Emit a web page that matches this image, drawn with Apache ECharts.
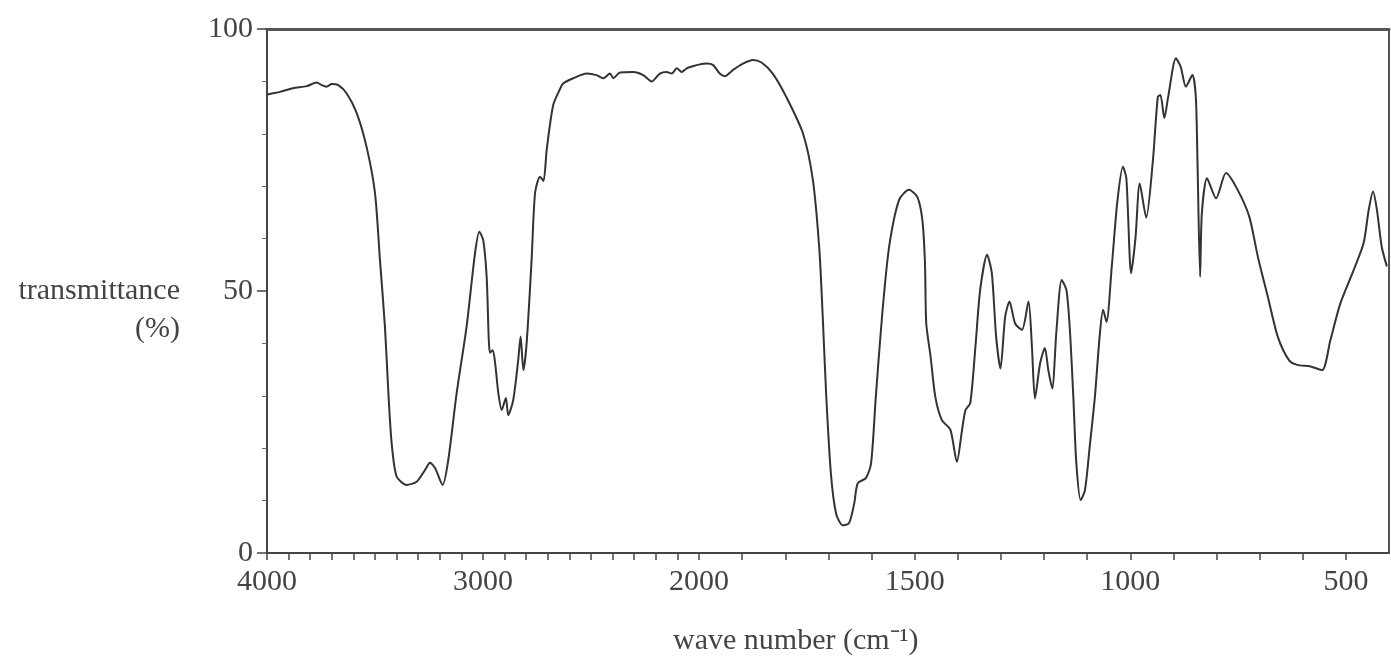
<!DOCTYPE html>
<html>
<head>
<meta charset="utf-8">
<script src="https://cdn.jsdelivr.net/npm/echarts@6/dist/echarts.min.js"></script>
<style>html,body{margin:0;padding:0;background:#fff}#c{width:1391px;height:657px}</style>
</head>
<body>
<div id="c"></div>
<script>
// wavenumber (cm^-1), descending
const wavenumbers = [
 4000,3978,3940,3880,3816,3770,3747,3724,3700,3670,3631,3585,3539,3500,3477,3454,3438,3423,3400,3354,
 3307,3269,3245,3222,3187,3161,3122,3076,3037,3017,2999,2983,2968,2955,2944,2929,2913,2894,2883,2860,
 2837,2826,2813,2798,2775,2759,2736,2720,2705,2675,2644,2629,2582,2520,2474,2443,2412,2397,2366,2304,
 2258,2219,2181,2150,2126,2103,2080,2057,2011,2000,1982,1967,1952,1940,1921,1898,1875,1855,1829,1798,
 1759,1736,1721,1713,1705,1694,1682,1667,1652,1640,1632,1613,1601,1590,1575,1559,1536,1513,1494,1482,
 1476,1473,1463,1452,1437,1417,1402,1390,1382,1371,1359,1348,1332,1321,1311,1301,1290,1280,1267,1251,
 1236,1228,1221,1209,1198,1190,1181,1171,1159,1148,1140,1132,1125,1115,1105,1094,1082,1071,1063,1055,
 1043,1030,1017,1009,998,988,978,963,948,936,930,921,912,894,883,871,856,848,844,838,
 834,822,801,778,751,724,704,681,658,632,613,582,555,536,513,482,459,447,437,428,
 417,405
];
// transmittance (%)
const transmittance = [
 87.5,87.7,88.0,88.7,89.1,89.8,89.3,89.0,89.5,89.3,87.7,84.0,77.5,68.7,55.9,43.2,30.5,21.0,14.6,13.0,
 13.6,15.8,17.2,16.2,13.0,17.7,30.5,43.2,57.2,61.3,59.7,52.7,38.2,38.7,36.3,30.5,27.3,29.6,26.3,29.2,
 36.8,41.3,34.9,40.0,55.9,68.7,71.8,71.0,77.0,85.5,88.5,89.6,90.6,91.5,91.2,90.6,91.5,90.6,91.7,91.8,
 91.2,90.0,91.5,91.8,91.5,92.5,91.8,92.5,93.1,93.2,93.4,93.1,91.5,91.0,92.2,93.4,94.1,93.6,91.5,87.1,
 80.1,71.2,58.0,45.0,30.0,15.0,7.5,5.3,5.7,9.5,13.3,14.3,17.1,29.8,45.7,58.5,67.4,69.3,68.0,63.5,
 55.3,43.8,37.5,29.8,25.4,23.5,17.4,23.5,27.3,28.6,39.4,50.2,56.9,53.4,41.3,35.2,45.1,48.0,43.8,42.6,
 48.0,39.4,29.5,36.2,39.1,34.9,31.4,42.6,52.1,50.2,42.6,29.8,17.1,10.1,12.0,20.3,29.8,41.3,46.4,44.1,
 54.5,67.0,73.7,71.5,53.4,60.0,70.5,64.0,74.4,87.1,87.4,83.0,87.1,94.4,92.8,89.0,91.2,87.1,74.4,52.7,
 64.8,71.5,67.7,72.5,69.3,64.2,56.5,48.9,41.3,36.8,35.9,35.6,34.9,40.6,47.6,54.0,59.1,65.5,69.0,65.5,
 58.5,54.7
];
const highLabels = [4000, 3000];
const lowLabels = [2000, 1500, 1000, 500];
const yLabels = [0, 50, 100];
const xTitle = 'wave number (cm\u207B\u00B9)';
const yTitle = '\ntransmittance\n(%)';

const pairs = wavenumbers.map((w, i) => [w, transmittance[i]]);
const highPart = pairs.filter(p => p[0] >= 2000);
const lowPart = pairs.filter(p => p[0] <= 2000);

const FONT = 'Liberation Serif';
const TXT = '#444';
const labelStyle = {fontFamily: FONT, fontSize: 30, color: TXT};

const chart = echarts.init(document.getElementById('c'), null, {renderer: 'canvas'});
chart.setOption({
  animation: false,
  backgroundColor: '#fff',
  grid: [
    {left: 267, width: 432, top: 29, bottom: 104},
    {left: 699, right: 2, top: 29, bottom: 104}
  ],
  xAxis: [
    {gridIndex: 0, type: 'value', inverse: true, min: 2000, max: 4000, interval: 100, position: 'bottom',
     axisLine: {show: true, lineStyle: {color: '#444', width: 2}},
     axisTick: {show: true, length: 7, lineStyle: {color: '#444', width: 1.5}},
     axisLabel: Object.assign({margin: 14, interval: 0, showMinLabel: false, showMaxLabel: true,
       formatter: v => highLabels.includes(v) ? String(v) : ''}, labelStyle),
     splitLine: {show: false}},
    {gridIndex: 1, type: 'value', inverse: true, min: 400, max: 2000, interval: 100, position: 'bottom',
     axisLine: {show: true, lineStyle: {color: '#444', width: 2}},
     axisTick: {show: true, length: 7, lineStyle: {color: '#444', width: 1.5}},
     axisLabel: Object.assign({margin: 14, interval: 0, showMinLabel: false, showMaxLabel: true,
       formatter: v => lowLabels.includes(v) ? String(v) : ''}, labelStyle),
     splitLine: {show: false}},
    {gridIndex: 0, type: 'value', inverse: true, min: 2000, max: 4000, position: 'top',
     axisLine: {show: true, lineStyle: {color: '#555', width: 3}},
     axisTick: {show: false}, axisLabel: {show: false}, splitLine: {show: false}},
    {gridIndex: 1, type: 'value', inverse: true, min: 400, max: 2000, position: 'top',
     axisLine: {show: true, lineStyle: {color: '#555', width: 3}},
     axisTick: {show: false}, axisLabel: {show: false}, splitLine: {show: false}}
  ],
  yAxis: [
    {gridIndex: 0, type: 'value', min: 0, max: 100, interval: 50, position: 'left',
     axisLine: {show: true, lineStyle: {color: '#444', width: 2}},
     axisTick: {show: true, length: 10, lineStyle: {color: '#444', width: 1.5}},
     minorTick: {show: true, splitNumber: 5, length: 5, lineStyle: {color: '#666', width: 1}},
     axisLabel: Object.assign({margin: 14, formatter: v => yLabels.includes(v) ? String(v) : ''}, labelStyle),
     splitLine: {show: false},
     name: yTitle, nameLocation: 'middle', nameRotate: 0, nameGap: 87,
     nameTextStyle: {fontFamily: FONT, fontSize: 30, color: TXT, align: 'right', verticalAlign: 'middle', lineHeight: 38}},
    {gridIndex: 1, type: 'value', min: 0, max: 100, position: 'right',
     axisLine: {show: true, lineStyle: {color: '#555', width: 2}},
     axisTick: {show: false}, axisLabel: {show: false}, splitLine: {show: false}}
  ],
  graphic: [
    {type: 'text', left: 673, top: 626,
     style: {text: xTitle, font: '30px "Liberation Serif"', fill: TXT}}
  ],
  series: [
    {type: 'line', xAxisIndex: 0, yAxisIndex: 0, data: highPart, symbol: 'none', smooth: 0.25,
     lineStyle: {color: '#333', width: 2}},
    {type: 'line', xAxisIndex: 1, yAxisIndex: 1, data: lowPart, symbol: 'none', smooth: 0.25,
     lineStyle: {color: '#333', width: 2}}
  ]
});
</script>
</body>
</html>
